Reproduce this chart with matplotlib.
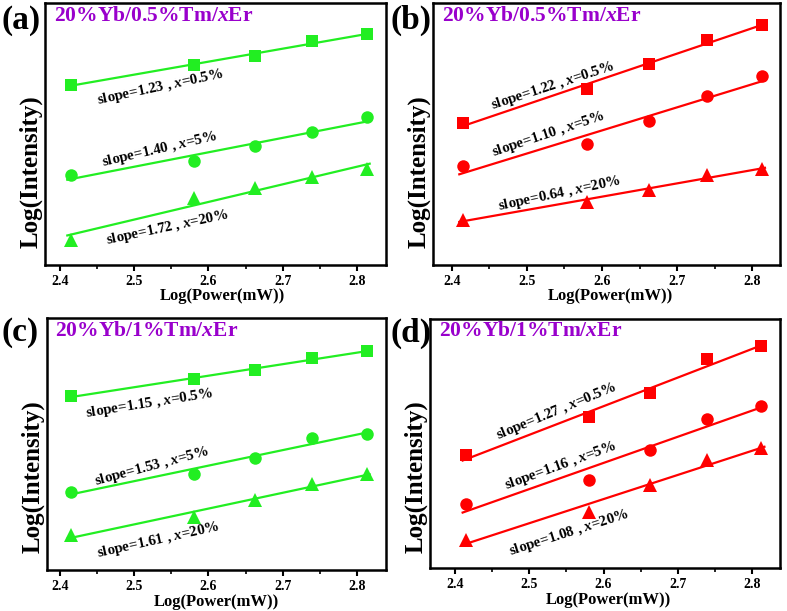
import matplotlib
matplotlib.use('Agg')
import matplotlib.pyplot as plt
import numpy as np

# ---------------------------------------------------------------
# dados (eixo y sem escala: unidades arbitrarias 0-10)

log_power = [2.415, 2.580, 2.663, 2.740, 2.813]

a_sq = [6.88, 7.62, 7.99, 8.56, 8.80]
a_ci = [3.45, 3.96, 4.56, 5.07, 5.63]
a_tr = [0.96, 2.55, 2.93, 3.35, 3.66]

b_sq = [5.41, 6.71, 7.68, 8.57, 9.17]
b_ci = [3.76, 4.62, 5.50, 6.46, 7.20]
b_tr = [1.72, 2.42, 2.87, 3.44, 3.66]

c_sq = [6.89, 7.59, 7.95, 8.41, 8.68]
c_ci = [3.11, 3.81, 4.46, 5.23, 5.40]
c_tr = [1.39, 2.12, 2.78, 3.42, 3.80]

d_sq = [4.52, 6.06, 7.02, 8.38, 8.93]
d_ci = [2.57, 3.52, 4.72, 5.99, 6.51]
d_tr = [1.14, 2.25, 3.34, 4.34, 4.81]

a_slopes = ['1.23', '1.40', '1.72']
b_slopes = ['1.22', '1.10', '0.64']
c_slopes = ['1.15', '1.53', '1.61']
d_slopes = ['1.27', '1.16', '1.08']
er_conc = ['0.5%', '5%', '20%']

titulos = ['20%Yb/0.5%Tm/$x$Er', '20%Yb/0.5%Tm/$x$Er',
           '20%Yb/1%Tm/$x$Er', '20%Yb/1%Tm/$x$Er']
letras = ['(a)', '(b)', '(c)', '(d)']

# ---------------------------------------------------------------
# estilo

plt.rcParams['font.family'] = ['Liberation Serif', 'DejaVu Serif']
plt.rcParams['font.weight'] = 'bold'
plt.rcParams['mathtext.fontset'] = 'custom'
plt.rcParams['mathtext.rm'] = 'Liberation Serif:bold'
plt.rcParams['mathtext.it'] = 'Liberation Serif:italic:bold'
plt.rcParams['mathtext.bf'] = 'Liberation Serif:bold'

VERDE = '#22ee22'
VERMELHO = '#ff0000'
ROXO = '#9900cc'

fig = plt.figure(figsize=(7.87, 6.11), dpi=100)

# [left, bottom, width, height], xlim, cor, series, slopes, texto (x, y, rot),
# posicao do ylabel, posicao do xlabel, letra
paineis = [
    dict(pos=[0.0572, 0.5663, 0.4333, 0.4288], xlim=(2.380, 2.839), cor=VERDE,
         dados=[a_sq, a_ci, a_tr], slopes=a_slopes,
         txt=[(2.535, 6.79, 12), (2.534, 4.39, 13), (2.544, 1.43, 12)],
         ylab=0.355, xlab=(0.52, -0.088), letra=(0.002, 1 - 20 / 611)),
    dict(pos=[0.5502, 0.5663, 0.4409, 0.4288], xlim=(2.375, 2.837), cor=VERMELHO,
         dados=[b_sq, b_ci, b_tr], slopes=b_slopes,
         txt=[(2.535, 6.84, 18), (2.528, 4.99, 18.4), (2.544, 2.74, 12)],
         ylab=0.355, xlab=(0.51, -0.088), letra=(390 / 787, 1 - 20 / 611)),
    dict(pos=[0.0597, 0.0671, 0.4307, 0.4124], xlim=(2.3825, 2.839), cor=VERDE,
         dados=[c_sq, c_ci, c_tr], slopes=c_slopes,
         txt=[(2.521, 6.62, 9), (2.524, 4.11, 15), (2.533, 1.19, 12.5)],
         ylab=0.369, xlab=(0.50, -0.095), letra=(0.002, 1 - 333 / 611)),
    dict(pos=[0.5464, 0.0704, 0.4447, 0.4075], xlim=(2.366, 2.838), cor=VERMELHO,
         dados=[d_sq, d_ci, d_tr], slopes=d_slopes,
         txt=[(2.537, 6.28, 22.5), (2.542, 4.12, 20), (2.553, 1.43, 17.7)],
         ylab=0.365, xlab=(0.51, -0.096), letra=(390 / 787, 1 - 333 / 611)),
]

marcadores = ['s', 'o', '^']
tamanhos = [8, 9, 10]

for i, p in enumerate(paineis):
    ax = fig.add_axes(p['pos'])
    x = np.array(log_power)
    xf = np.array([2.41, 2.817])

    for serie, m, ms, s, conc, (tx, ty, rot) in zip(p['dados'], marcadores, tamanhos,
                                                     p['slopes'], er_conc, p['txt']):
        ax.plot(x, serie, m, color=p['cor'], ms=ms, mew=0)
        # reta ajustada
        coef = np.polyfit(x, serie, 1)
        ax.plot(xf, np.polyval(coef, xf), '-', color=p['cor'], lw=1.6)
        ax.text(tx, ty, f'slope={s} , $x$={conc}', rotation=rot,
                ha='center', va='center', fontsize=10.8, fontweight='bold',
                rotation_mode='anchor')

    ax.set_xlim(*p['xlim'])
    ax.set_ylim(0, 10)
    ax.set_xticks([2.4, 2.5, 2.6, 2.7, 2.8])
    ax.set_xticks(np.arange(2.45, 2.85, 0.1), minor=True)
    ax.set_yticks([])
    ax.tick_params(axis='x', which='major', direction='out', length=4,
                   width=1.5, pad=3, labelsize=10)
    ax.tick_params(axis='x', which='minor', direction='out', length=3, width=1.2)
    for lab in ax.get_xticklabels():
        lab.set_fontweight('bold')
    for sp in ax.spines.values():
        sp.set_linewidth(1.8)

    ax.set_xlabel('Log(Power(mW))', fontsize=12, fontweight='bold')
    ax.xaxis.set_label_coords(*p['xlab'])
    ax.set_ylabel('Log(Intensity)', fontsize=18, fontweight='bold')
    ax.yaxis.set_label_coords(-0.008, p['ylab'])

    ax.text(0.025, 0.95, titulos[i], transform=ax.transAxes, color=ROXO,
            fontsize=15.5, fontweight='bold', ha='left', va='center')
    fig.text(p['letra'][0], p['letra'][1], letras[i], fontsize=24,
             fontweight='bold', ha='left', va='center')

fig.savefig('out.png', dpi=100)
